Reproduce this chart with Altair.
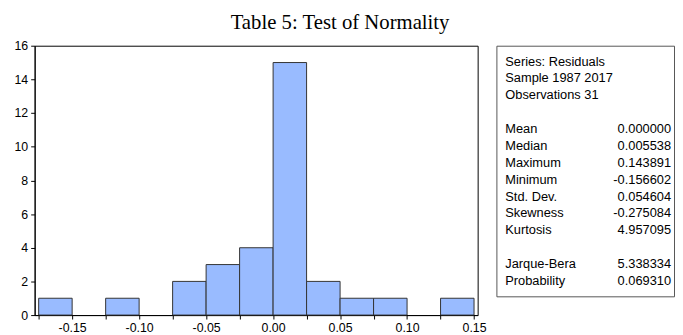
import altair as alt
import pandas as pd

# Histogram bins (residuals) and counts
bin_lo = [-0.175, -0.150, -0.125, -0.100, -0.075, -0.050, -0.025, 0.000, 0.025, 0.050, 0.075, 0.100, 0.125]
bin_hi = [-0.150, -0.125, -0.100, -0.075, -0.050, -0.025, 0.000, 0.025, 0.050, 0.075, 0.100, 0.125, 0.150]
counts = [1, 0, 1, 0, 2, 3, 4, 15, 2, 1, 1, 0, 1]

x_ticks = [-0.175, -0.150, -0.125, -0.100, -0.075, -0.050, -0.025, 0.000,
           0.025, 0.050, 0.075, 0.100, 0.125, 0.150]
y_ticks = [0, 2, 4, 6, 8, 10, 12, 14, 16]

# Statistics box text
header_lines = ["Series: Residuals", "Sample 1987 2017", "Observations 31"]
stat_names = ["Mean", "Median", "Maximum", "Minimum", "Std. Dev.", "Skewness", "Kurtosis"]
stat_values = ["0.000000", "0.005538", "0.143891", "-0.156602", "0.054604", "-0.275084", "4.957095"]
test_names = ["Jarque-Bera", "Probability"]
test_values = ["5.338334", "0.069310"]

hist_df = pd.DataFrame({"lo": bin_lo, "hi": bin_hi, "count": counts})

rows = []
r = 0
for h in header_lines:
    rows.append({"row": r, "label": h, "value": ""})
    r += 1
r += 1
for n, v in zip(stat_names, stat_values):
    rows.append({"row": r, "label": n, "value": v})
    r += 1
r += 1
for n, v in zip(test_names, test_values):
    rows.append({"row": r, "label": n, "value": v})
    r += 1
rows_df = pd.DataFrame(rows)

label_expr = ("abs(round(datum.value*1000)) % 50 == 0 ? "
              "((datum.value < -0.0001 ? '-' : '') + format(abs(datum.value), '.2f')) : ''")

axis_style = dict(domainColor="black", domainWidth=1, tickColor="black", tickWidth=1,
                  labelFont="Liberation Sans", labelFontSize=12.5, labelColor="black",
                  title=None, grid=False, tickSize=4, labelOverlap=False)

hist = alt.Chart(hist_df).transform_filter("datum.count > 0").mark_bar(
    fill="#99BBFF", stroke="#333333", strokeWidth=1
).encode(
    x=alt.X("lo:Q",
            scale=alt.Scale(domain=[-0.178, 0.1527], nice=False, zero=False),
            axis=alt.Axis(values=x_ticks, labelExpr=label_expr, labelPadding=3,
                          labelFlush=False, **axis_style)),
    x2="hi:Q",
    y=alt.Y("count:Q",
            scale=alt.Scale(domain=[0, 16], nice=False),
            axis=alt.Axis(values=y_ticks, labelPadding=3, **axis_style)),
    y2=alt.datum(0),
).properties(width=449, height=273, view=alt.ViewBackground(stroke="black", strokeWidth=1))

yscale = alt.Scale(domain=[-0.94, 13.91], reverse=True, nice=False, zero=False)

labels = alt.Chart(rows_df).mark_text(
    align="left", baseline="middle", font="Liberation Sans", fontSize=13, color="black"
).encode(
    x=alt.value(9),
    y=alt.Y("row:Q", scale=yscale, axis=None),
    text="label:N",
)
values = alt.Chart(rows_df).mark_text(
    align="right", baseline="middle", font="Liberation Sans", fontSize=13, color="black"
).encode(
    x=alt.value(177),
    y=alt.Y("row:Q", scale=yscale, axis=None),
    text="value:N",
)
panel = alt.layer(labels, values).properties(
    width=180, height=254, view=alt.ViewBackground(stroke="#555555", strokeWidth=1)
)

chart = alt.hconcat(
    hist, panel, spacing=19, bounds="flush",
    title=alt.TitleParams("Table 5: Test of Normality", font="Liberation Serif", fontSize=21,
                          fontWeight="normal", anchor="middle", offset=6, color="black", dx=-4),
).properties(
    padding={"left": 5, "top": 2, "right": 0, "bottom": 0}
).configure(background="white")

chart.save("out.html", embed_options={"renderer": "svg", "actions": False})
